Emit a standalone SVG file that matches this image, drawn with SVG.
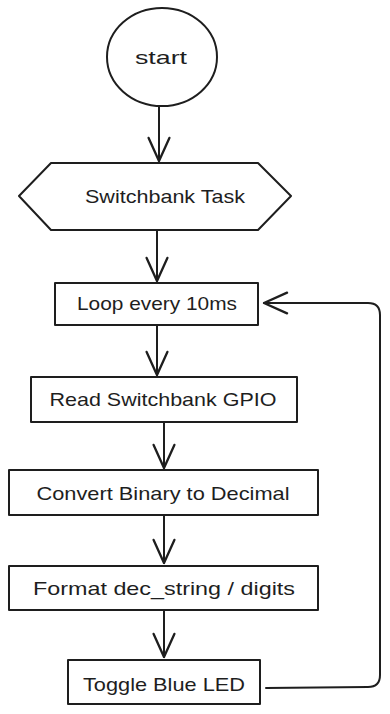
<svg xmlns="http://www.w3.org/2000/svg" width="390" height="714" viewBox="0 0 390 714">
<defs>
<marker id="ah" markerUnits="userSpaceOnUse" markerWidth="30" markerHeight="30" viewBox="-22 -12 26 24" refX="0" refY="0" orient="auto">
<path d="M-20,-9 L0,0 L-20,9" fill="none" stroke="#1e1e1e" stroke-width="2" stroke-linecap="round" stroke-linejoin="round"/>
</marker>
</defs>
<style>
.s{fill:#fff;stroke:#1e1e1e;stroke-width:2;stroke-linejoin:round}
.t{font-family:"Liberation Sans",Arial,sans-serif;font-size:19px;fill:#1e1e1e;text-anchor:middle;dominant-baseline:central}
.c{fill:none;stroke:#1e1e1e;stroke-width:2;stroke-linecap:round;stroke-linejoin:round}
</style>
<rect width="390" height="714" fill="#fff"/>
<g id="connectors">
<path class="c" d="M159,107 L159,161" marker-end="url(#ah)"/>
<path class="c" d="M157,231 L157,281" marker-end="url(#ah)"/>
<path class="c" d="M157,326 L157,375" marker-end="url(#ah)"/>
<path class="c" d="M164,423 L164,468" marker-end="url(#ah)"/>
<path class="c" d="M164,516 L164,563" marker-end="url(#ah)"/>
<path class="c" d="M164,611 L164,657" marker-end="url(#ah)"/>
<path class="c" d="M266,688 L368,687 Q380,687 380,675 L380,315 Q380,303 368,303 L264,303" marker-end="url(#ah)"/>
</g>
<g id="start">
<ellipse class="s" cx="162" cy="57" rx="55" ry="49"/>
<text class="t" x="161" y="57" textLength="52" lengthAdjust="spacingAndGlyphs">start</text>
</g>
<g id="switchbank-task">
<path class="s" d="M51,163 L258,163 L291,196 L258,230 L51,230 L19,196 Z"/>
<text class="t" x="165" y="196" textLength="160" lengthAdjust="spacingAndGlyphs">Switchbank Task</text>
</g>
<g id="loop">
<rect class="s" x="55" y="283" width="203" height="42"/>
<text class="t" x="157" y="303" textLength="160" lengthAdjust="spacingAndGlyphs">Loop every 10ms</text>
</g>
<g id="read">
<rect class="s" x="31" y="377" width="266" height="45"/>
<text class="t" x="163" y="399" textLength="227" lengthAdjust="spacingAndGlyphs">Read Switchbank GPIO</text>
</g>
<g id="convert">
<rect class="s" x="9" y="470" width="309" height="45"/>
<text class="t" x="163" y="493" textLength="253" lengthAdjust="spacingAndGlyphs">Convert Binary to Decimal</text>
</g>
<g id="format">
<rect class="s" x="9" y="566" width="309" height="44"/>
<text class="t" x="164" y="588" textLength="262" lengthAdjust="spacingAndGlyphs">Format dec_string / digits</text>
</g>
<g id="toggle">
<rect class="s" x="68" y="660" width="192" height="44"/>
<text class="t" x="164" y="684" textLength="162" lengthAdjust="spacingAndGlyphs">Toggle Blue LED</text>
</g>
</svg>
